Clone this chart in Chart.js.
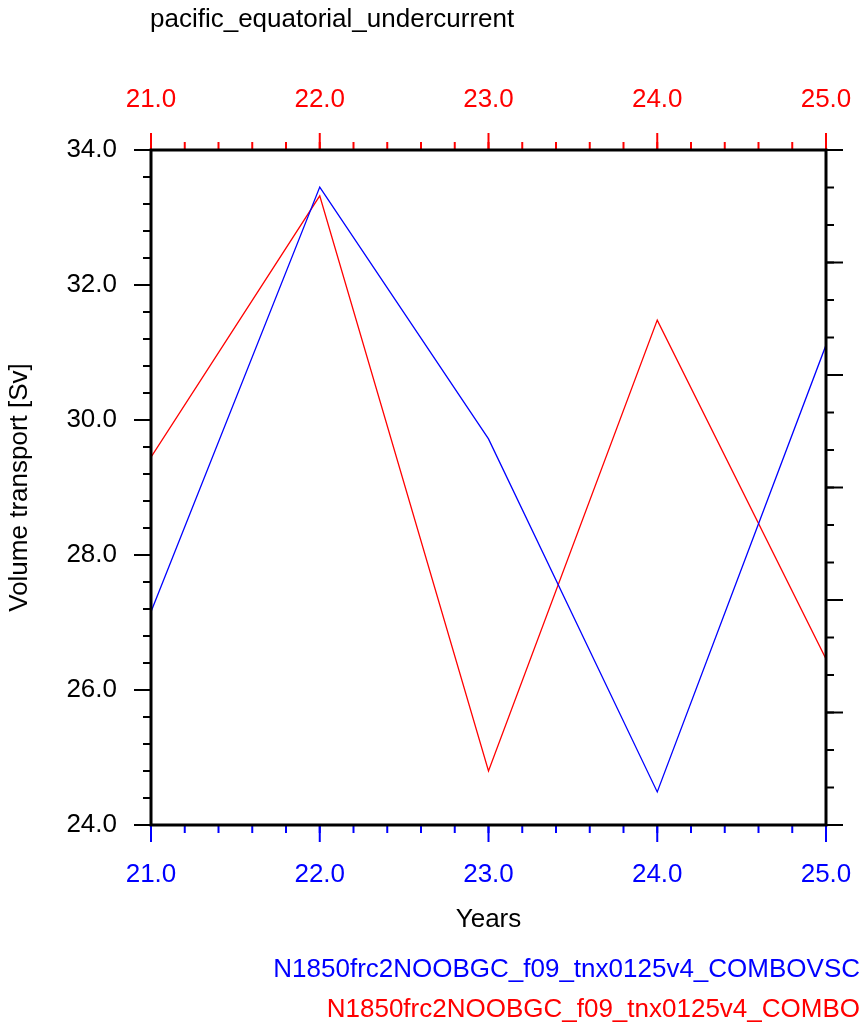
<!DOCTYPE html>
<html><head><meta charset="utf-8">
<script src="https://cdn.jsdelivr.net/npm/chart.js@4"></script>
<style>body{margin:0;background:#fff}canvas{display:block}</style>
</head><body>
<canvas id="c" width="865" height="1036"></canvas>
<script>
const years = [21, 22, 23, 24, 25];
const comboVsc = [27.16, 33.45, 29.72, 24.49, 31.11];
const combo = [29.45, 33.32, 24.80, 31.48, 26.46];
const seriesNames = ['N1850frc2NOOBGC_f09_tnx0125v4_COMBOVSC', 'N1850frc2NOOBGC_f09_tnx0125v4_COMBO'];
const FONT = '"Liberation Sans", Arial, sans-serif';

// ── Axis geometry ─────────────────────────────────────────────────────────────
const fixSize = (w, h) => s => { if (w) s.width = w; if (h) s.height = h; };

function tickList(min, max, step) {
  const out = [];
  for (let v = min; v <= max + 1e-9; v += step) out.push(+v.toFixed(6));
  return out;
}

const ncl = {
  id: 'ncl',
  afterDraw(chart) {
    const { ctx, chartArea: a, scales } = chart;
    ctx.save();
    const tk = (scale, vals, len, color, side) => {
      ctx.strokeStyle = color; ctx.lineWidth = 2;
      vals.forEach(v => {
        const p = scale.getPixelForValue(v);
        ctx.beginPath();
        if (side === 'b') { ctx.moveTo(p, a.bottom); ctx.lineTo(p, a.bottom + len); }
        if (side === 't') { ctx.moveTo(p, a.top); ctx.lineTo(p, a.top - len); }
        if (side === 'l') { ctx.moveTo(a.left, p); ctx.lineTo(a.left - len, p); }
        if (side === 'r') { ctx.moveTo(a.right, p); ctx.lineTo(a.right + len, p); }
        ctx.stroke();
      });
    };
    tk(scales.x, tickList(21, 25, 0.2), 8, 'blue', 'b');
    tk(scales.x, years, 17, 'blue', 'b');
    tk(scales.x2, tickList(21, 25, 0.2), 8, 'red', 't');
    tk(scales.x2, years, 17, 'red', 't');
    tk(scales.y, tickList(24, 34, 0.4), 8, 'black', 'l');
    tk(scales.y, tickList(24, 34, 2), 17, 'black', 'l');
    tk(scales.y2, tickList(0, 6, 1 / 3), 8, 'black', 'r');
    tk(scales.y2, tickList(0, 6, 1), 17, 'black', 'r');
    ctx.strokeStyle = '#000'; ctx.lineWidth = 3;
    ctx.strokeRect(a.left, a.top, a.right - a.left, a.bottom - a.top);

    ctx.font = '26px ' + FONT;
    ctx.textBaseline = 'middle';
    ctx.textAlign = 'center';
    years.forEach(v => {
      ctx.fillStyle = 'blue'; ctx.fillText(v.toFixed(1), scales.x.getPixelForValue(v), 875);
      ctx.fillStyle = 'red'; ctx.fillText(v.toFixed(1), scales.x2.getPixelForValue(v), 100);
    });
    ctx.textAlign = 'right'; ctx.fillStyle = '#000';
    tickList(24, 34, 2).forEach(v => ctx.fillText(v.toFixed(1), 117, scales.y.getPixelForValue(v)));

    ctx.textAlign = 'left';
    ctx.fillText('pacific_equatorial_undercurrent', 150, 20);
    ctx.textAlign = 'center';
    ctx.fillText('Years', (a.left + a.right) / 2, 920);
    ctx.save();
    ctx.translate(20, (a.top + a.bottom) / 2); ctx.rotate(-Math.PI / 2);
    ctx.fillText('Volume transport [Sv]', 0, 0);
    ctx.restore();
    ctx.textAlign = 'right';
    ctx.fillStyle = 'blue'; ctx.fillText(seriesNames[0], 860, 970);
    ctx.fillStyle = 'red'; ctx.fillText(seriesNames[1], 860, 1010);
    ctx.restore();
  }
};

const hidden = { grid: { display: false }, border: { display: false }, ticks: { display: false } };

new Chart(document.getElementById('c'), {
  type: 'line',
  data: {
    datasets: [
      { data: years.map((x, i) => ({ x, y: comboVsc[i] })), borderColor: 'blue', borderWidth: 1.3, pointRadius: 0, tension: 0 },
      { data: years.map((x, i) => ({ x, y: combo[i] })), borderColor: 'red', borderWidth: 1.3, pointRadius: 0, tension: 0 }
    ]
  },
  options: {
    responsive: false, animation: false,
    layout: { padding: 0 },
    plugins: { legend: { display: false }, tooltip: { enabled: false } },
    scales: {
      x: { type: 'linear', position: 'bottom', min: 21, max: 25, afterFit: fixSize(0, 211), ...hidden },
      x2: { type: 'linear', position: 'top', min: 21, max: 25, afterFit: fixSize(0, 150), ...hidden },
      y: { position: 'left', min: 24, max: 34, afterFit: fixSize(151, 0), ...hidden },
      y2: { position: 'right', min: 0, max: 6, afterFit: fixSize(39, 0), ...hidden }
    }
  },
  plugins: [ncl]
});
</script>
</body></html>
